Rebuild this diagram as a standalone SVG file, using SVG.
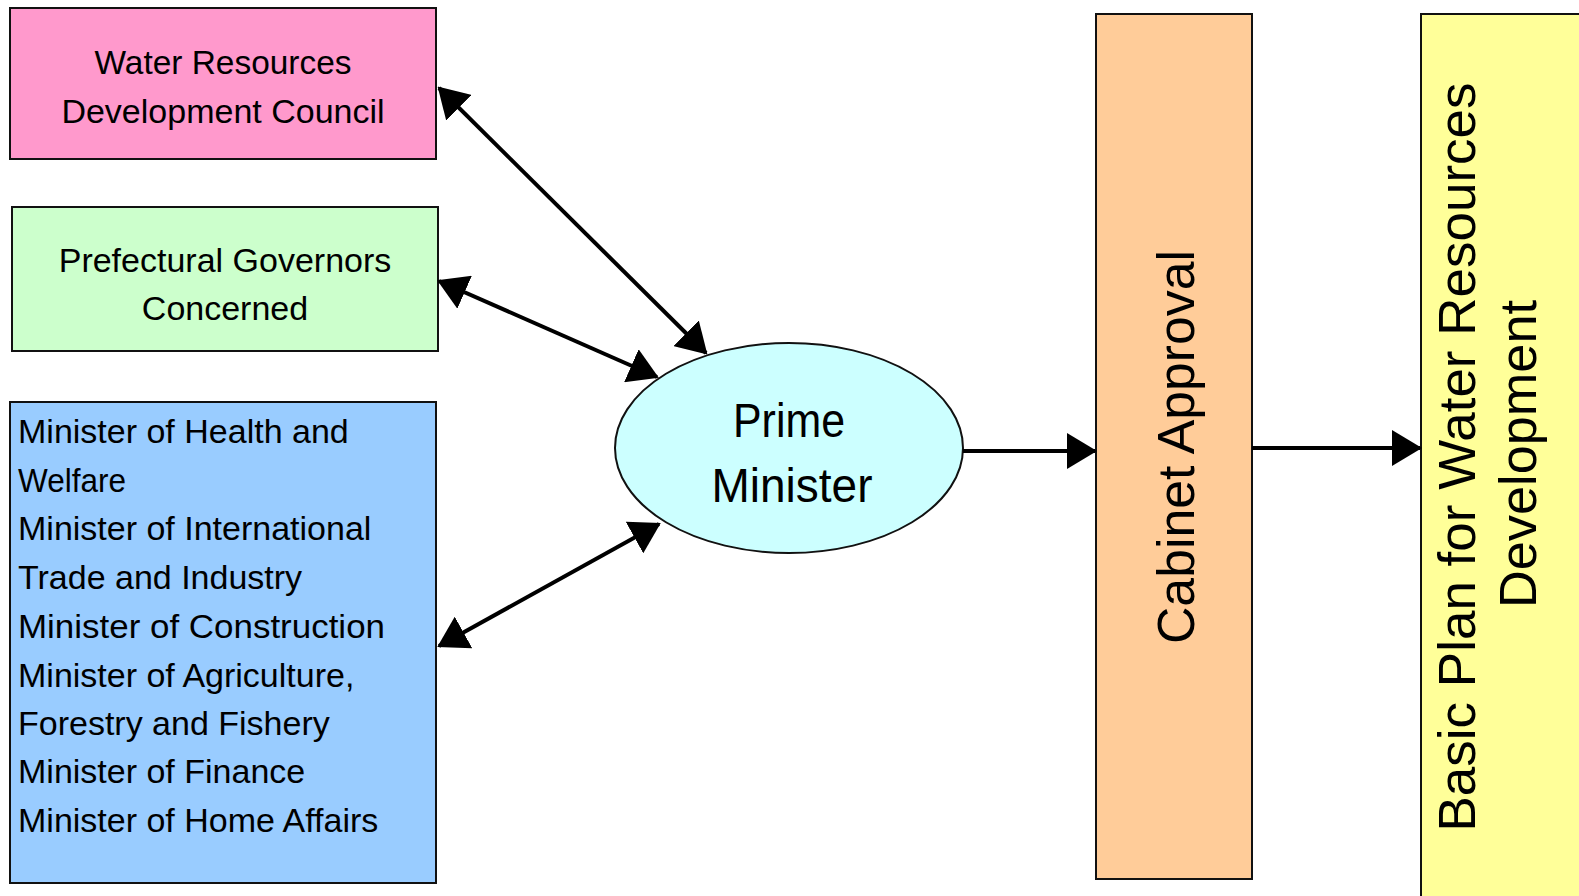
<svg xmlns="http://www.w3.org/2000/svg" width="1579" height="896" viewBox="0 0 1579 896">
  <style>
    .box { stroke: #111; stroke-width: 2; }
    .lbl { font-family: "Liberation Sans", Arial, sans-serif; font-size: 34px; fill: #000; }
    .mid { text-anchor: middle; }
    .big { font-family: "Liberation Sans", Arial, sans-serif; font-size: 48px; fill: #000; text-anchor: middle; }
    .vert { font-family: "Liberation Sans", Arial, sans-serif; font-size: 52px; fill: #000; text-anchor: middle; }
    .conn { stroke: #000; stroke-width: 4; fill: none; }
  </style>
  <defs>
    <marker id="arrowEnd" markerUnits="userSpaceOnUse" markerWidth="30" markerHeight="36" viewBox="0 0 30 36" refX="28" refY="18" orient="auto">
      <path d="M0,0 L30,18 L0,36 Z" fill="#000"/>
    </marker>
    <marker id="arrowStart" markerUnits="userSpaceOnUse" markerWidth="30" markerHeight="36" viewBox="0 0 30 36" refX="2" refY="18" orient="auto">
      <path d="M30,0 L0,18 L30,36 Z" fill="#000"/>
    </marker>
  </defs>

  <rect width="1579" height="896" fill="#fff"/>

  <g id="council">
    <rect class="box" x="10" y="8" width="426" height="151" fill="#FF99CC"/>
    <text class="lbl mid" x="223" y="74" textLength="257" lengthAdjust="spacingAndGlyphs">Water Resources</text>
    <text class="lbl mid" x="223" y="123">Development Council</text>
  </g>

  <g id="governors">
    <rect class="box" x="12" y="207" width="426" height="144" fill="#CCFFCC"/>
    <text class="lbl mid" x="225" y="272">Prefectural Governors</text>
    <text class="lbl mid" x="225" y="320">Concerned</text>
  </g>

  <g id="ministers">
    <rect class="box" x="10" y="402" width="426" height="481" fill="#99CCFF"/>
    <text class="lbl" x="18" y="443">Minister of Health and</text>
    <text class="lbl" x="18" y="492" textLength="108" lengthAdjust="spacingAndGlyphs">Welfare</text>
    <text class="lbl" x="18" y="540">Minister of International</text>
    <text class="lbl" x="18" y="589">Trade and Industry</text>
    <text class="lbl" x="18" y="638" textLength="367" lengthAdjust="spacingAndGlyphs">Minister of Construction</text>
    <text class="lbl" x="18" y="687">Minister of Agriculture,</text>
    <text class="lbl" x="18" y="735">Forestry and Fishery</text>
    <text class="lbl" x="18" y="783">Minister of Finance</text>
    <text class="lbl" x="18" y="832">Minister of Home Affairs</text>
  </g>

  <g id="prime-minister">
    <ellipse class="box" cx="789" cy="448" rx="174" ry="105" fill="#CCFFFF"/>
    <text class="big" x="789" y="437" textLength="112" lengthAdjust="spacingAndGlyphs">Prime</text>
    <text class="big" x="792" y="502" textLength="161" lengthAdjust="spacingAndGlyphs">Minister</text>
  </g>

  <g id="cabinet">
    <rect class="box" x="1096" y="14" width="156" height="865" fill="#FFCC99"/>
    <text class="vert" transform="translate(1194,447) rotate(-90)" textLength="394" lengthAdjust="spacingAndGlyphs">Cabinet Approval</text>
  </g>

  <g id="basic-plan">
    <rect class="box" x="1421" y="14" width="170" height="900" fill="#FFFF99"/>
    <text class="vert" transform="translate(1475,457) rotate(-90)" textLength="749" lengthAdjust="spacingAndGlyphs">Basic Plan for Water Resources</text>
    <text class="vert" transform="translate(1536,454) rotate(-90)" textLength="308" lengthAdjust="spacingAndGlyphs">Development</text>
  </g>

  <g id="connectors">
    <line class="conn" x1="439" y1="88" x2="706" y2="353" marker-start="url(#arrowStart)" marker-end="url(#arrowEnd)"/>
    <line class="conn" x1="439" y1="281" x2="657" y2="377" marker-start="url(#arrowStart)" marker-end="url(#arrowEnd)"/>
    <line class="conn" x1="439" y1="646" x2="659" y2="524" marker-start="url(#arrowStart)" marker-end="url(#arrowEnd)"/>
    <line class="conn" x1="963" y1="451" x2="1095" y2="451" marker-end="url(#arrowEnd)"/>
    <line class="conn" x1="1252" y1="448" x2="1420" y2="448" marker-end="url(#arrowEnd)"/>
  </g>
</svg>
